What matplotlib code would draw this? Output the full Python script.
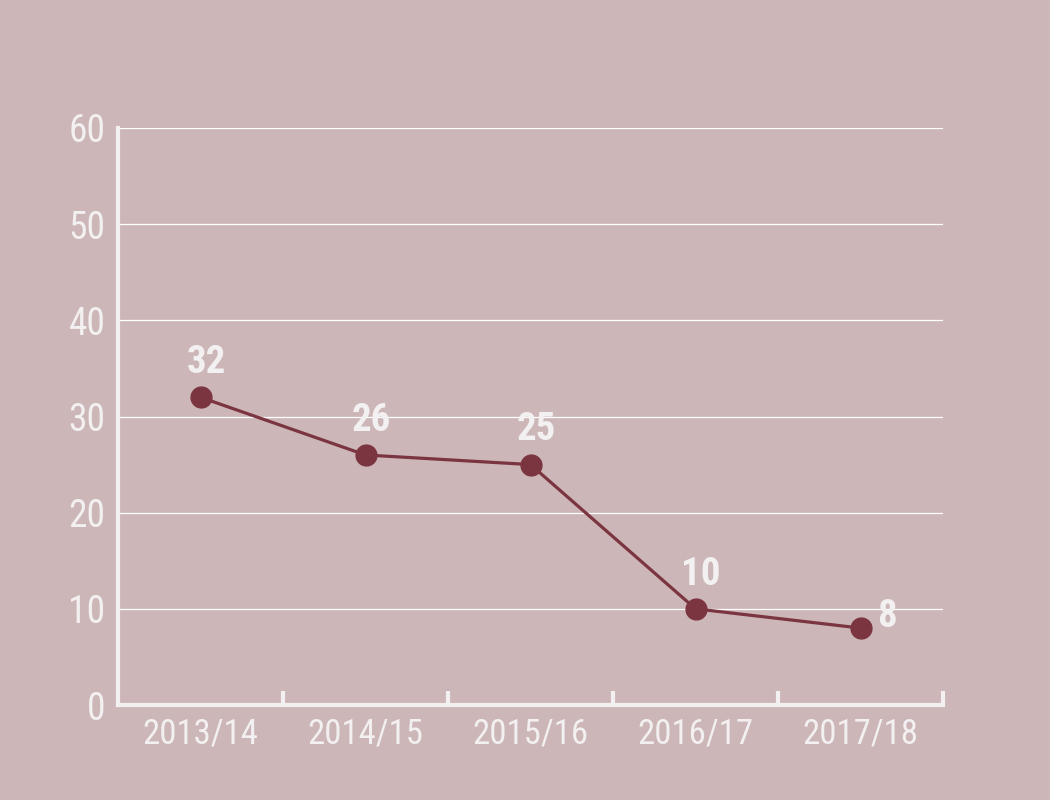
import matplotlib.pyplot as plt
from matplotlib import font_manager

# -------- DATA --------
seasons = ["2013/14", "2014/15", "2015/16", "2016/17", "2017/18"]
values = [32, 26, 25, 10, 8]
y_ticks = [0, 10, 20, 30, 40, 50, 60]

# -------- STYLE --------
bg = "#cdb6b8"
line_col = "#7b3540"
light = "#f2f0f0"

# prefer a narrow / condensed face if one is installed
names = {f.name for f in font_manager.fontManager.ttflist}
fam = "DejaVu Sans"
for cand in ["Liberation Sans Narrow", "Roboto Condensed", "Open Sans Condensed"]:
    if cand in names:
        fam = cand
        break
plt.rcParams["font.family"] = [fam, "DejaVu Sans"]
plt.rcParams["font.stretch"] = "condensed"

fig = plt.figure(figsize=(10.5, 8), dpi=100, facecolor=bg)
ax = fig.add_axes([0.1124, 0.11875, 0.7857, 0.72125])
ax.set_facecolor(bg)

x = list(range(len(seasons)))
ax.plot(x, values, color=line_col, lw=2.3, marker="o", ms=15, zorder=3)

# value labels
for i, v in enumerate(values):
    if i == len(values) - 1:
        ax.annotate(str(v), (i, v), xytext=(12, 8), textcoords="offset points",
                    ha="left", va="center", fontsize=28, fontweight="bold", color=light)
    else:
        ax.annotate(str(v), (i, v), xytext=(4, 25), textcoords="offset points",
                    ha="center", va="center", fontsize=28, fontweight="bold", color=light)

ax.set_xlim(-0.5, len(seasons) - 0.5)
ax.set_ylim(0, 60)
ax.set_yticks(y_ticks)
ax.yaxis.grid(True, color="white", lw=0.9)
ax.set_axisbelow(True)

# category labels centred, ticks between categories
ax.set_xticks([i + 0.5 for i in x])
ax.set_xticklabels([])
ax.set_xticks(x, minor=True)
ax.set_xticklabels(seasons, minor=True)
ax.tick_params(axis="x", which="major", direction="in", length=10, width=3, color=light)
ax.tick_params(axis="x", which="minor", length=0, pad=9, labelsize=25, labelcolor=light)
ax.tick_params(axis="y", length=0, pad=9, labelsize=27, labelcolor=light)

for s in ["top", "right"]:
    ax.spines[s].set_visible(False)
for s in ["left", "bottom"]:
    ax.spines[s].set_color(light)
    ax.spines[s].set_linewidth(3)

fig.savefig("out.png", dpi=100, facecolor=bg)
